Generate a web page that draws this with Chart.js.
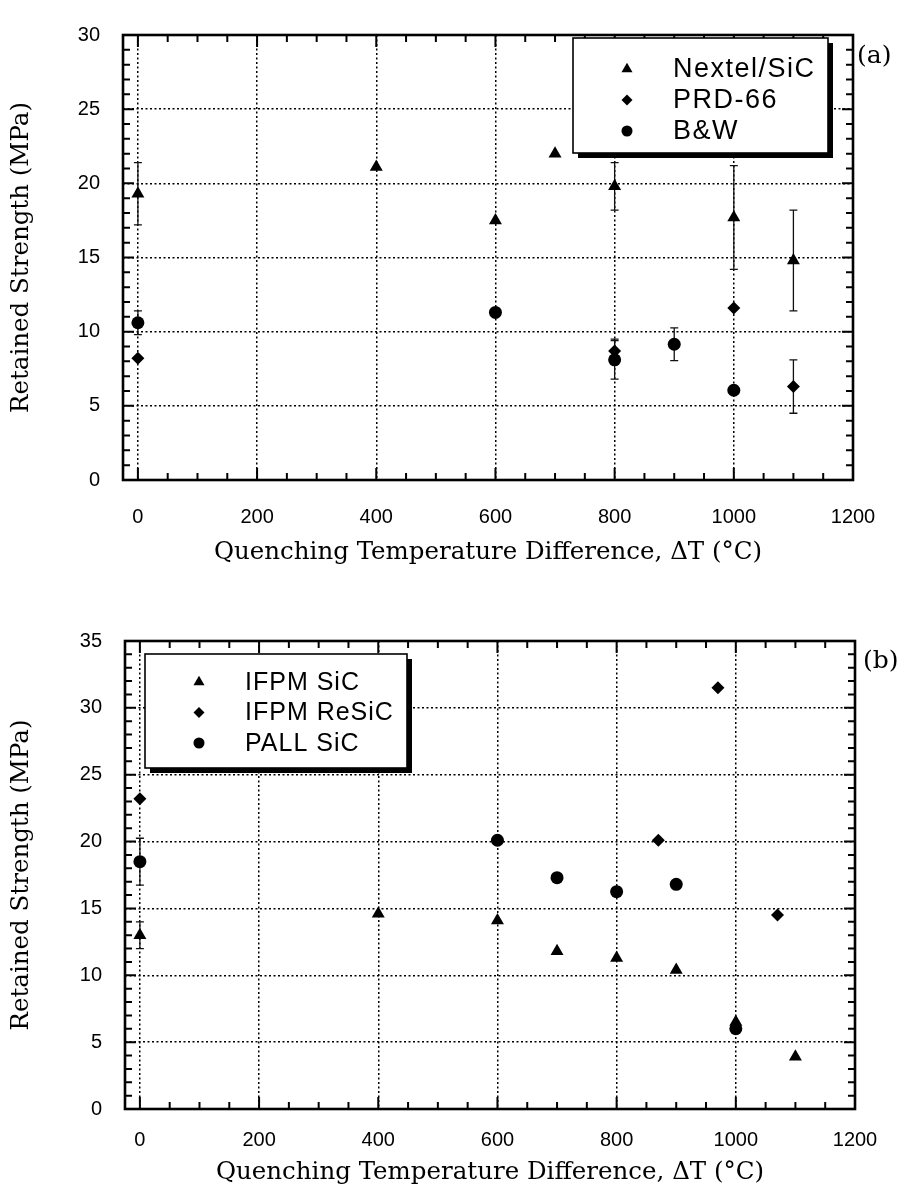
<!DOCTYPE html>
<html><head><meta charset="utf-8">
<script src="https://cdn.jsdelivr.net/npm/chart.js@4/dist/chart.umd.min.js"></script>
<style>
html,body{margin:0;padding:0;background:#fff;}
#wrap{position:relative;width:906px;height:1195px;background:#fff;}
canvas{position:absolute;left:0;}
#ca{top:0;} #cb{top:575px;}
</style></head><body>
<div id="wrap"><canvas id="ca" width="906" height="575"></canvas><canvas id="cb" width="906" height="620"></canvas></div>
<script>
// ---------- tick labels / titles ----------
const xTickValues = [0, 200, 400, 600, 800, 1000, 1200];
const yTicksA = [0, 5, 10, 15, 20, 25, 30];
const yTicksB = [0, 5, 10, 15, 20, 25, 30, 35];
const xTitle = 'Quenching Temperature Difference, \u0394T (\u00B0C)';
const yTitle = 'Retained Strength (MPa)';
const panelA = '(a)';
const panelB = '(b)';

// ---------- panel (a) ----------
const nextelLabel = 'Nextel/SiC';
const nextelX   = [0, 400, 600, 700, 800, 1000, 1100];
const nextelY   = [19.3, 21.1, 17.5, 22.0, 19.8, 17.7, 14.8];
const nextelErr = [2.1, null, null, null, 1.6, 3.5, 3.4];

const prdLabel = 'PRD-66';
const prdX   = [0, 800, 1000, 1100];
const prdY   = [8.2, 8.7, 11.6, 6.3];
const prdErr = [null, 0.8, null, 1.8];

const bwLabel = 'B&W';
const bwX   = [0, 600, 800, 900, 1000];
const bwY   = [10.6, 11.3, 8.1, 9.15, 6.05];
const bwErr = [0.8, null, 1.3, 1.1, null];

// ---------- panel (b) ----------
const ifpmLabel = 'IFPM SiC';
const ifpmX   = [0, 400, 600, 700, 800, 900, 1000, 1100];
const ifpmY   = [13.0, 14.6, 14.1, 11.8, 11.3, 10.4, 6.5, 3.9];
const ifpmErr = [1.0, null, null, null, null, null, null, null];

const resicLabel = 'IFPM ReSiC';
const resicX = [0, 870, 970, 1070];
const resicY = [23.2, 20.1, 31.5, 14.5];

const pallLabel = 'PALL SiC';
const pallX   = [0, 600, 700, 800, 900, 1000];
const pallY   = [18.5, 20.1, 17.3, 16.25, 16.8, 6.0];
const pallErr = [1.75, null, null, null, null, null];

// ---------- helpers ----------
const SANS = '"Liberation Sans", Arial, sans-serif';
const SERIF = '"DejaVu Serif", serif';
const pts = (xs, ys) => xs.map((v, i) => ({x: v, y: ys[i]}));
const R = {triangle: 7.5, rectRot: 6.5, circle: 6.5};

function ds(label, xs, ys, style, errs) {
  return {
    label, data: pts(xs, ys), errors: errs || null,
    pointStyle: style, pointRadius: R[style], pointHoverRadius: R[style],
    backgroundColor: '#000', borderColor: '#000', borderWidth: 0, showLine: false
  };
}

function drawSymbol(ctx, style, x, y, r) {
  ctx.beginPath();
  if (style === 'triangle') {
    ctx.moveTo(x, y - r);
    ctx.lineTo(x + r * Math.sin(2 * Math.PI / 3), y + r / 2);
    ctx.lineTo(x - r * Math.sin(2 * Math.PI / 3), y + r / 2);
    ctx.closePath();
  } else if (style === 'rectRot') {
    ctx.moveTo(x - r, y); ctx.lineTo(x, y - r); ctx.lineTo(x + r, y); ctx.lineTo(x, y + r);
    ctx.closePath();
  } else {
    ctx.arc(x, y, r, 0, Math.PI * 2);
  }
  ctx.fill();
}

const errorBarPlugin = {
  id: 'errbars',
  beforeDatasetsDraw(chart) {
    const {ctx, scales: {x, y}} = chart;
    ctx.save();
    ctx.strokeStyle = '#111';
    ctx.lineWidth = 1.3;
    chart.data.datasets.forEach(d => {
      if (!d.errors) return;
      d.data.forEach((p, j) => {
        const e = d.errors[j];
        if (e == null) return;
        const px = x.getPixelForValue(p.x);
        const t = y.getPixelForValue(p.y + e), b = y.getPixelForValue(p.y - e);
        ctx.beginPath();
        ctx.moveTo(px, t); ctx.lineTo(px, b);
        ctx.moveTo(px - 4, t); ctx.lineTo(px + 4, t);
        ctx.moveTo(px - 4, b); ctx.lineTo(px + 4, b);
        ctx.stroke();
      });
    });
    ctx.restore();
  }
};

const framePlugin = {
  id: 'frame',
  afterDraw(chart, args, o) {
    const {ctx, chartArea: a, scales: {x, y}} = chart;
    ctx.save();
    ctx.strokeStyle = '#000';
    ctx.lineWidth = 2;
    ctx.beginPath();
    for (let v = 0; v <= x.max + 1e-9; v += o.xMinor) {
      const px = x.getPixelForValue(v);
      const L = (Math.abs(v % o.xMajor) < 1e-6) ? 12 : 7;
      ctx.moveTo(px, a.bottom); ctx.lineTo(px, a.bottom - L);
      ctx.moveTo(px, a.top); ctx.lineTo(px, a.top + L);
    }
    for (let v = y.min; v <= y.max + 1e-9; v += o.yMinor) {
      const py = y.getPixelForValue(v);
      const L = (Math.abs(v % o.yMajor) < 1e-6) ? 11 : 7;
      ctx.moveTo(a.left, py); ctx.lineTo(a.left + L, py);
      ctx.moveTo(a.right, py); ctx.lineTo(a.right - L, py);
    }
    ctx.stroke();
    ctx.lineWidth = 2.6;
    ctx.strokeRect(a.left, a.top, a.right - a.left, a.bottom - a.top);

    // legend box
    const lg = o.legend;
    const bx = a.left + lg.dx, by = a.top + lg.dy;
    ctx.fillStyle = '#000';
    ctx.fillRect(bx + 5, by + 5, lg.w, lg.h);
    ctx.fillStyle = '#fff';
    ctx.fillRect(bx, by, lg.w, lg.h);
    ctx.lineWidth = 1.6;
    ctx.strokeRect(bx, by, lg.w, lg.h);
    ctx.fillStyle = '#000';
    ctx.font = lg.font + 'px ' + SANS;
    ctx.letterSpacing = lg.spacing + 'px';
    ctx.textBaseline = 'middle';
    ctx.textAlign = 'left';
    chart.data.datasets.forEach((d, i) => {
      const ry = by + lg.row0 + i * lg.rowH;
      drawSymbol(ctx, d.pointStyle, bx + lg.symX, ry, d.pointRadius * 0.85);
      ctx.fillText(d.label, bx + lg.textX, ry + 1);
    });
    ctx.letterSpacing = '0px';
    // panel label
    ctx.font = '25px ' + SERIF;
    ctx.textBaseline = 'middle';
    ctx.fillText(o.panel, a.right + o.panelDx, a.top + o.panelDy);
    ctx.restore();
  }
};

function makeChart(id, datasets, yTicks, cfg) {
  return new Chart(document.getElementById(id), {
    type: 'scatter',
    data: {datasets},
    plugins: [errorBarPlugin, framePlugin],
    options: {
      responsive: false, animation: false,
      events: [],
      layout: {padding: {top: cfg.top, right: cfg.right, left: 0, bottom: 0}},
      plugins: {
        legend: {display: false}, tooltip: {enabled: false},
        frame: cfg.frame
      },
      scales: {
        x: {
          type: 'linear', position: 'bottom', min: -25, max: 1200,
          afterBuildTicks: s => { s.ticks = xTickValues.map(v => ({value: v})); },
          afterFit: s => { s.height = cfg.xHeight; },
          ticks: {color: '#000', font: {family: SANS, size: 20}, padding: cfg.xPad, maxRotation: 0, autoSkip: false,
                  callback: v => String(v)},
          grid: {color: '#000', lineWidth: 1.5, drawTicks: false},
          border: {display: false, dash: [2, 2.5]},
          title: {display: true, text: xTitle, color: '#000', font: {family: SERIF, size: 24.5}, padding: {top: 0, bottom: 8}}
        },
        y: {
          type: 'linear', min: 0, max: yTicks[yTicks.length - 1],
          afterBuildTicks: s => { s.ticks = yTicks.map(v => ({value: v})); },
          afterFit: s => { s.width = cfg.yWidth; },
          ticks: {color: '#000', font: {family: SANS, size: 20}, padding: 23, callback: v => String(v)},
          grid: {color: '#000', lineWidth: 1.5, drawTicks: false},
          border: {display: false, dash: [2, 2.5]},
          title: {display: true, text: yTitle, color: '#000', font: {family: SERIF, size: 24.5}, padding: {top: 7, bottom: 0}}
        }
      }
    }
  });
}

makeChart('ca', [
  ds(nextelLabel, nextelX, nextelY, 'triangle', nextelErr),
  ds(prdLabel, prdX, prdY, 'rectRot', prdErr),
  ds(bwLabel, bwX, bwY, 'circle', bwErr)
], yTicksA, {
  top: 14, right: 53, xHeight: 95, yWidth: 123, xPad: 25,
  frame: {xMinor: 50, xMajor: 200, yMinor: 1, yMajor: 5, panel: panelA, panelDx: 4, panelDy: 21,
    legend: {dx: 450, dy: 3, w: 255, h: 115, font: 27, spacing: 1.5, symX: 54, textX: 100, row0: 31, rowH: 31}}
});

makeChart('cb', [
  ds(ifpmLabel, ifpmX, ifpmY, 'triangle', ifpmErr),
  ds(resicLabel, resicX, resicY, 'rectRot'),
  ds(pallLabel, pallX, pallY, 'circle', pallErr)
], yTicksB, {
  top: 66, right: 51, xHeight: 86, yWidth: 125, xPad: 19,
  frame: {xMinor: 50, xMajor: 200, yMinor: 1, yMajor: 5, panel: panelB, panelDx: 8, panelDy: 20,
    legend: {dx: 20, dy: 13, w: 262, h: 114, font: 25, spacing: 1, symX: 54, textX: 100, row0: 28, rowH: 30.5}}
});
</script>
</body></html>
